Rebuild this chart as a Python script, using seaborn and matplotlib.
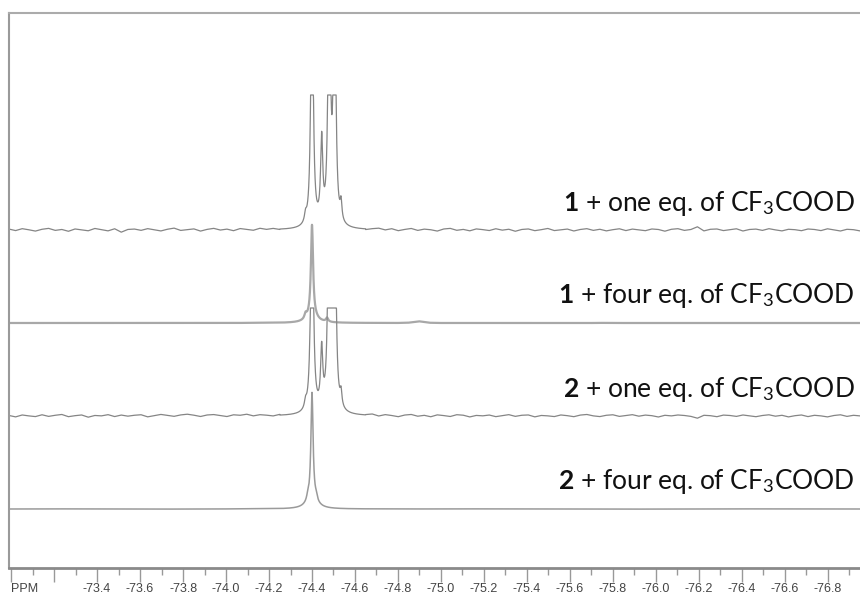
import numpy as np
import pandas as pd
import matplotlib
matplotlib.use("Agg")
import matplotlib.pyplot as plt
import seaborn as sns
from matplotlib.ticker import FixedLocator, FixedFormatter

# --- spectra: peak lists (ppm, height, half width) -------------------------
labels = [
    r"$\mathbf{1}$ + one eq. of CF$_3$COOD",
    r"$\mathbf{1}$ + four eq. of CF$_3$COOD",
    r"$\mathbf{2}$ + one eq. of CF$_3$COOD",
    r"$\mathbf{2}$ + four eq. of CF$_3$COOD",
]

peaks_1 = [-74.370, -74.400, -74.445, -74.480, -74.505, -74.535]
heights_1 = [8, 300, 82, 300, 300, 18]
widths_1 = [0.006, 0.006, 0.006, 0.006, 0.006, 0.005]
clip_1 = 135

peaks_2 = [-74.370, -74.400, -74.400, -74.470]
heights_2 = [5, 92, 6, 4]
widths_2 = [0.006, 0.006, 0.030, 0.006]
clip_2 = 200

peaks_3 = [-74.370, -74.400, -74.445, -74.480, -74.505, -74.535]
heights_3 = [7, 300, 58, 300, 300, 14]
widths_3 = [0.006, 0.006, 0.006, 0.006, 0.006, 0.005]
clip_3 = 108

peaks_4 = [-74.400, -74.400, -74.380, -74.420]
heights_4 = [108, 8, 4, 4]
widths_4 = [0.006, 0.030, 0.006, 0.006]
clip_4 = 200

# baseline wiggle, left of the signal (-72.99 .. -74.25) and right of it (-74.65 .. -76.95)
wiggle_1_left = [0.9, -0.6, 1.3, 0.2, -1.1, 0.7, 1.6, -0.4, 0.5, -1.3,
                 1.0, 0.1, -0.8, 1.5, 0.3, -0.9, 1.2, -2.2, 0.5, 0.9,
                 -0.4, 1.3, 0.1, -1.0, 0.7, 1.8, -0.5, 0.3, 1.0, -1.2,
                 0.5, 1.5, -0.2, 0.7, -0.9, 1.2, 0.3, -0.6, 1.3, 0.1,
                 0.9, -0.4]
wiggle_1_right = [-0.7, 0.5, 1.2, -0.4, 0.9, -1.0, 0.3, 1.3, -0.6, 0.7,
                  0.1, -1.2, 0.9, 1.5, -0.4, 0.5, -0.9, 1.0, 0.3, -0.6,
                  1.2, -0.2, 0.7, -1.3, 0.5, 1.0, -0.7, 0.3, 1.5, -0.6,
                  0.1, 0.9, -1.0, 0.5, 1.3, -0.4, 0.7, -0.9, 0.3, 1.2,
                  -0.6, 0.9, 0.1, -0.7, 1.0, 0.5, -1.2, 0.7, 1.3, -0.4,
                  0.5, 3.2, -0.9, 0.7, 1.0, -0.6, 0.3, 1.2, -1.0, 0.5,
                  0.9, -0.4, 1.3, 0.1, -0.9, 0.7, 0.3, -0.7, 1.0, 0.5,
                  -0.6, 1.2, 0.1, -1.0, 0.7, 0.3, -0.9]
wiggle_2_left = [0.0, 0.0, 0.1, 0.0, 0.0, -0.1, 0.0, 0.0]
wiggle_2_right = [0.0, 0.0, 0.0, 0.0, 0.3, 1.6, 0.2, 0.0, 0.0, 0.0,
                  0.0, 0.1, 0.0, 0.0, 0.0, 0.0, -0.1, 0.0, 0.0, 0.0,
                  0.0, 0.0, 0.1, 0.0, 0.0, 0.0, 0.0, 0.0, 0.0, -0.1,
                  0.0, 0.0, 0.0, 0.1, 0.0, 0.0, 0.0, 0.0, 0.0, 0.0,
                  0.0, 0.1, 0.0, 0.0, 0.0, 0.0, 0.0]
wiggle_3_left = [0.5, -0.9, 1.0, 0.1, -0.6, 1.2, -0.4, 0.7, 1.5, -0.7,
                 0.3, 1.0, -1.2, 0.5, 0.1, 1.3, -0.6, 0.9, -0.2, 0.7,
                 1.2, -0.9, 0.3, 1.5, 0.5, -0.4, 1.0, 1.7, 0.7, -0.6,
                 0.9, 1.3, 0.3, -0.7, 1.0, 0.5, 1.5, -0.2, 0.9, 0.3,
                 -0.6, 0.7]
wiggle_3_right = [0.3, 1.2, -0.6, 0.9, 0.1, -1.0, 0.7, 1.3, -0.4, 0.5,
                  -0.9, 1.0, 0.3, -0.6, 1.2, 0.7, -1.0, 0.5, 0.1, 0.9,
                  -0.7, 0.3, 1.3, -0.4, 0.7, 1.0, -0.9, 0.5, 0.1, -0.6,
                  1.0, 0.3, -0.7, 0.9, 1.5, 0.1, -0.6, 0.7, 1.2, -0.4,
                  0.5, 1.3, -0.2, 0.9, 0.3, -1.0, 0.7, 0.1, 1.0, 0.5,
                  -0.4, -2.2, 0.7, 0.3, -0.7, 0.9, 0.5, -0.4, 1.0, 0.1,
                  -0.7, 0.5, 1.2, -0.2, 0.7, -0.9, 0.3, 1.0, -0.6, 0.7,
                  0.1, -0.9, 0.5, 1.2, -0.4, 0.7, 0.1]
wiggle_4_left = [0.0, 0.1, 0.0, -0.1, 0.0, 0.0]
wiggle_4_right = [0.0, 0.0, 0.1, 0.0, 0.0, -0.1, 0.0, 0.1, 0.0, 0.0]

tick_values = [round(-73.0 - 0.2 * i, 1) for i in range(20)]
tick_labels = ["PPM", ""] + [f"{v:.1f}" for v in tick_values[2:]]

# --- build traces ---------------------------------------------------------------
X_LEFT, X_RIGHT = -72.99, -76.95
SIG_A, SIG_B = -74.25, -74.65


def trace(peaks, heights, widths, clip, w_left, w_right):
    xl = np.linspace(X_LEFT, SIG_A, len(w_left))
    xs = np.linspace(SIG_A, SIG_B, 500)[1:-1]
    xr = np.linspace(SIG_B, X_RIGHT, len(w_right))
    x = np.concatenate([xl, xs, xr])
    wig = np.concatenate([w_left, np.zeros(len(xs)), w_right])
    y = np.zeros_like(x)
    for c, h, w in zip(peaks, heights, widths):
        y += h * w ** 2 / ((x - c) ** 2 + w ** 2)
    y = np.minimum(y, clip)
    return x, y + wig


spectra = [
    trace(peaks_1, heights_1, widths_1, clip_1, wiggle_1_left, wiggle_1_right),
    trace(peaks_2, heights_2, widths_2, clip_2, wiggle_2_left, wiggle_2_right),
    trace(peaks_3, heights_3, widths_3, clip_3, wiggle_3_left, wiggle_3_right),
    trace(peaks_4, heights_4, widths_4, clip_4, wiggle_4_left, wiggle_4_right),
]

# vertical stacking of the four spectra
offsets = [338, 245, 152, 59]
line_colors = ["#858585", "#a8a8a8", "#858585", "#9a9a9a"]
line_widths = [0.9, 1.6, 0.9, 1.1]

# --- figure -----------------------------------------------------------------------
sns.set_theme(style="white")
plt.rcParams["font.family"] = ["Lato", "DejaVu Sans"]
plt.rcParams["mathtext.fontset"] = "custom"
plt.rcParams["mathtext.rm"] = "Lato"
plt.rcParams["mathtext.bf"] = "Lato:bold"
plt.rcParams["mathtext.it"] = "Lato:italic"

fig = plt.figure(figsize=(8.6, 5.95), dpi=100)
ax = fig.add_axes([9 / 860, 27 / 595, 851 / 860, 555 / 595])

for (x, y), off, col, lw in zip(spectra, offsets, line_colors, line_widths):
    df = pd.DataFrame({"ppm": x, "intensity": y + off})
    sns.lineplot(data=df, x="ppm", y="intensity", ax=ax, sort=False,
                 estimator=None, color=col, linewidth=lw)

for lab, off in zip(labels, offsets):
    ax.text(-76.925, off + 27, lab, ha="right", va="center", fontsize=19,
            color="#111111")

ax.set_xlim(X_LEFT, X_RIGHT)
ax.set_ylim(0, 555)
ax.set_xlabel("")
ax.set_ylabel("")
ax.set_yticks([])

ax.xaxis.set_major_locator(FixedLocator(tick_values))
ax.xaxis.set_major_formatter(FixedFormatter(tick_labels))
ax.xaxis.set_minor_locator(FixedLocator([v - 0.1 for v in tick_values]))
ax.tick_params(axis="x", which="major", bottom=True, length=10, width=1.0,
               color="#999999", direction="out", pad=1, labelsize=9,
               labelcolor="#444444")
ax.tick_params(axis="x", which="minor", bottom=True, length=5, width=1.0,
               color="#999999", direction="out")
for t in ax.get_xticklabels():
    t.set_fontfamily(["Liberation Sans", "DejaVu Sans"])
ax.get_xticklabels()[0].set_ha("left")

ax.spines["right"].set_visible(False)
ax.spines["left"].set_color("#9a9a9a")
ax.spines["left"].set_linewidth(1.5)
ax.spines["top"].set_color("#ababab")
ax.spines["top"].set_linewidth(1.5)
ax.spines["bottom"].set_color("#8a8a8a")
ax.spines["bottom"].set_linewidth(2.0)

fig.savefig("out.png", dpi=100)
